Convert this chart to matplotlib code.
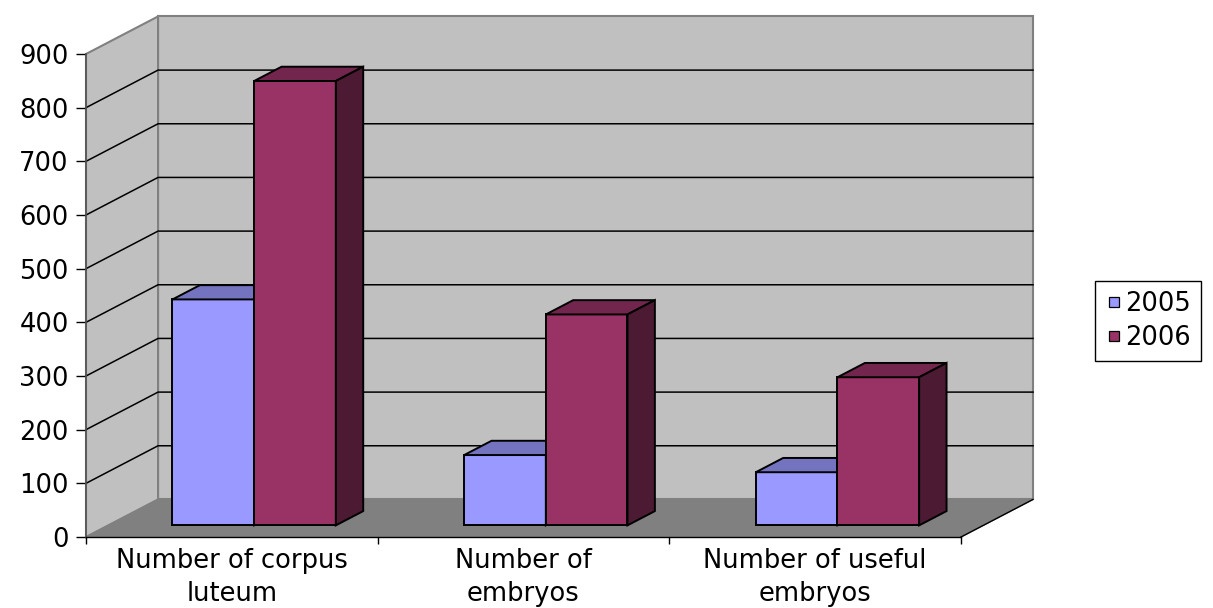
import matplotlib
matplotlib.use('Agg')
import matplotlib.pyplot as plt
from matplotlib.patches import Polygon
from matplotlib.lines import Line2D

plt.rcParams['font.family'] = ['DejaVu Sans']

# chart data
categories = ['Number of corpus\nluteum', 'Number of\nembryos', 'Number of useful\nembryos']
series = ['2005', '2006']
values_2005 = [421, 131, 99]
values_2006 = [828, 393, 276]
yticks = [0, 100, 200, 300, 400, 500, 600, 700, 800, 900]

# face colours per series: front, top, side
colors = {
    '2005': ('#9999FF', '#7373C0', '#4C4C80'),
    '2006': ('#993366', '#73264D', '#4D1A33'),
}

# oblique depth offset, in data units (categories, values)
DX, DY = 0.247, 70
D0, D1 = 0.31, 0.69      # bar front / back depth
GAP, BW = 0.22, 0.28     # gap before first bar, bar width
FS = 18.5


def pt(x, y, d):
    return (x + d * DX, y + d * DY)


def face(ax, pts, fc, ec='black', lw=1.4, z=3):
    ax.add_patch(Polygon(pts, closed=True, fc=fc, ec=ec, lw=lw,
                         clip_on=False, zorder=z, joinstyle='miter'))


fig = plt.figure(figsize=(12.13, 6.08), dpi=100)
ax = fig.add_axes([86 / 1213, 71 / 608, 875 / 1213, 483 / 608])
ax.set_xlim(0, len(categories))
ax.set_ylim(0, yticks[-1])
ax.patch.set_visible(False)

n = len(categories)
top = yticks[-1]

# walls and floor
face(ax, [pt(0, 0, 1), pt(n, 0, 1), pt(n, top, 1), pt(0, top, 1)], '#C0C0C0', ec='#808080', lw=1.5, z=0.5)
face(ax, [pt(0, 0, 0), pt(0, 0, 1), pt(0, top, 1), pt(0, top, 0)], '#C0C0C0', ec='#808080', lw=1.5, z=0.5)
face(ax, [pt(0, 0, 0), pt(n, 0, 0), pt(n, 0, 1), pt(0, 0, 1)], '#808080', ec='#808080', lw=1, z=0.6)
ax.plot([n, n + DX], [0, DY], color='black', lw=1, clip_on=False, zorder=0.7)

# gridlines on left and back walls
for v in yticks[1:-1]:
    ax.plot([0, DX, n + DX], [v, v + DY, v + DY], color='black', lw=1.1,
            clip_on=False, zorder=1)

# bars
for i in range(n):
    for s, vals in enumerate([values_2005, values_2006]):
        fc, tc, sc = colors[series[s]]
        x0 = i + GAP + s * BW
        x1 = x0 + BW
        v = vals[i]
        face(ax, [pt(x0, 0, D0), pt(x1, 0, D0), pt(x1, v, D0), pt(x0, v, D0)], fc)
        face(ax, [pt(x0, v, D0), pt(x1, v, D0), pt(x1, v, D1), pt(x0, v, D1)], tc)
        face(ax, [pt(x1, 0, D0), pt(x1, 0, D1), pt(x1, v, D1), pt(x1, v, D0)], sc)

# axes
for sp in ['top', 'right']:
    ax.spines[sp].set_visible(False)
ax.spines['left'].set_color('#555555')
ax.spines['left'].set_linewidth(1.2)
ax.spines['bottom'].set_color('black')
ax.spines['bottom'].set_linewidth(1)
ax.spines['left'].set_zorder(2)
ax.spines['bottom'].set_zorder(2)

ax.set_yticks(yticks)
ax.set_yticklabels([str(t) for t in yticks])
ax.tick_params(axis='y', length=7, width=1, pad=5.5, labelsize=FS, colors='black')

ax.set_xticks(range(n + 1))
ax.set_xticklabels([])
ax.tick_params(axis='x', which='major', length=5, width=1, color='black')
ax.set_xticks([i + 0.5 for i in range(n)], minor=True)
ax.set_xticklabels(categories, minor=True, fontsize=FS, linespacing=1.36)
ax.tick_params(axis='x', which='minor', length=0, pad=8)

# legend
handles = [Line2D([], [], ls='', marker='s', markersize=7.6,
                  markerfacecolor=colors[s][0], markeredgecolor='black',
                  markeredgewidth=0.9) for s in series]
leg = fig.legend(handles, series, loc='upper left',
                 bbox_to_anchor=(1095 / 1213, 1 - 281 / 608),
                 frameon=True, fancybox=False, edgecolor='black', framealpha=1,
                 fontsize=FS, handlelength=0.75, handletextpad=0.05,
                 labelspacing=0.32, borderpad=0.38, borderaxespad=0)
leg.get_frame().set_linewidth(1)

fig.savefig('out.png', dpi=100)
